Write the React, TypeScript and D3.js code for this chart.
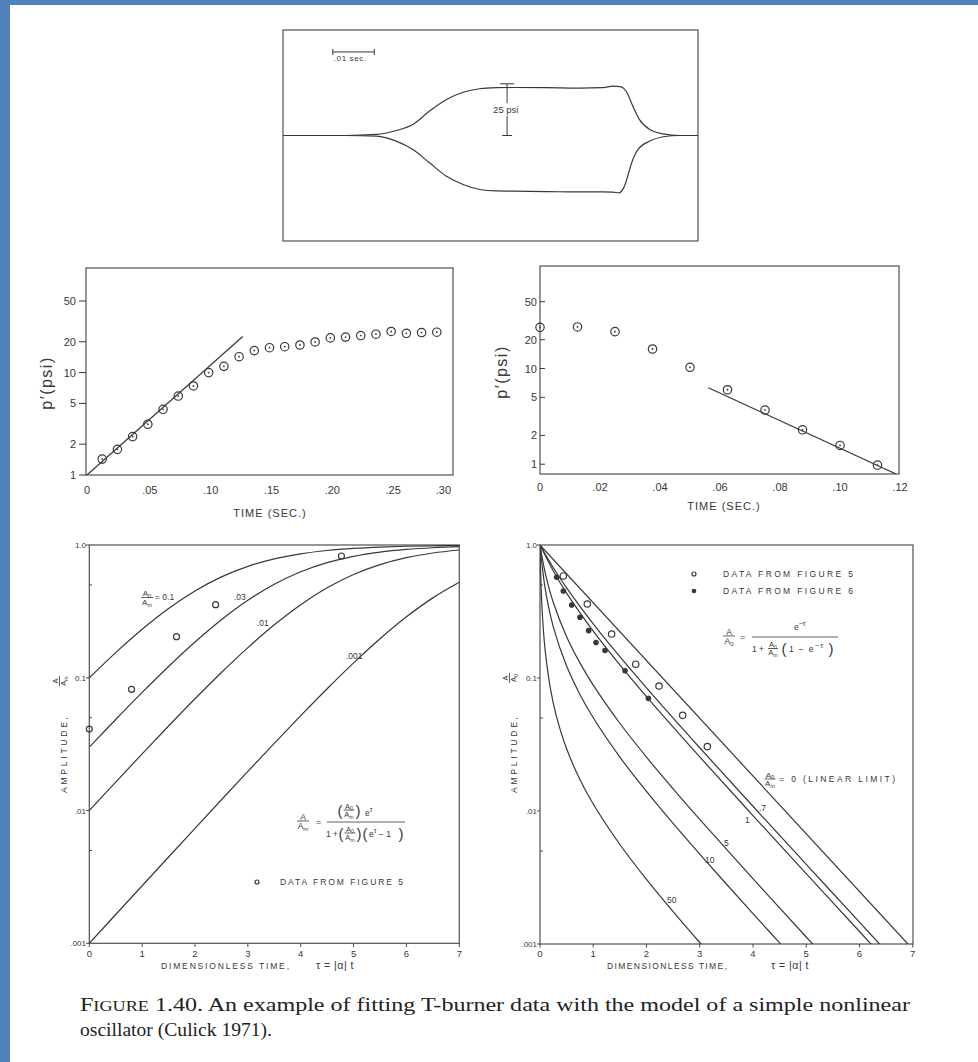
import React from "react";
import * as d3 from "d3";

// ---------------- DATA ----------------
// Top: oscilloscope envelope (time ms, amplitude psi)
const traceUpperT = [0, 15, 22.5, 27.3, 31.3, 35.3, 39.4, 43.4, 47.4, 51.4, 55.4, 63.5, 71.5, 77.1, 79.5, 81.5, 82.7, 84.3, 85.9, 88.4, 91.6, 95.6, 100];
const traceUpperP = [0, 0, 0.5, 2.4, 5.3, 11.8, 17.4, 20.9, 22.6, 23.1, 23.2, 23.1, 22.9, 23.1, 23.9, 23.5, 21.4, 14.2, 7.7, 2.9, 0.8, 0, 0];
const traceLowerT = [0, 15, 22.5, 27.3, 31.3, 35.3, 39.4, 43.4, 47.4, 51.4, 55.4, 63.5, 71.5, 77.1, 79.5, 81.0, 82.1, 84.3, 85.5, 88.4, 91.6, 95.6, 100];
const traceLowerP = [0, 0, -0.3, -2.7, -6.8, -13.2, -19.7, -23.7, -26.1, -26.8, -26.9, -27.1, -27.3, -27.3, -27.4, -27.7, -25.3, -11.6, -6.8, -2.7, -0.6, 0, 0];
const scaleBarT = [12, 22];
const scaleBarP = 40.4;
const markerT = 54;
const markerP = [0, 25];

// Middle left: growth
const growthTime = [0.0125, 0.025, 0.0375, 0.05, 0.0625, 0.075, 0.0875, 0.1, 0.1125, 0.125, 0.1375, 0.15, 0.1625, 0.175, 0.1875, 0.2, 0.2125, 0.225, 0.2375, 0.25, 0.2625, 0.275, 0.2875];
const growthP = [1.43, 1.78, 2.37, 3.13, 4.38, 5.9, 7.4, 10.0, 11.5, 14.3, 16.4, 17.5, 17.9, 18.6, 19.9, 21.8, 22.2, 23.0, 23.7, 25.2, 24.2, 24.6, 24.8];
const growthFitTime = [0, 0.128];
const growthFitP = [1, 22.5];
const growthTicks = [0, 0.05, 0.1, 0.15, 0.2, 0.25, 0.3];
const growthTickLabels = ["0", ".05", ".10", ".15", ".20", ".25", ".30"];

// Middle right: decay
const decayTime = [0, 0.0125, 0.025, 0.0375, 0.05, 0.0625, 0.075, 0.0875, 0.1, 0.1125];
const decayP = [27, 27.2, 24.3, 16, 10.3, 6.0, 3.68, 2.29, 1.57, 0.98];
const decayFitTime = [0.0561, 0.1187];
const decayFitP = [6.3, 0.79];
const decayTicks = [0, 0.02, 0.04, 0.06, 0.08, 0.1, 0.12];
const decayTickLabels = ["0", ".02", ".04", ".06", ".08", ".10", ".12"];

const pressureTicks = [1, 2, 5, 10, 20, 50];

// Bottom left: growth to limit cycle, A/Am vs tau
const growTau = [0, 0.5, 1, 1.5, 2, 2.5, 3, 3.5, 4, 4.5, 5, 5.5, 6, 6.5, 7];
const growA01 = [0.1, 0.1548, 0.232, 0.3324, 0.4509, 0.5751, 0.6906, 0.7863, 0.8585, 0.9091, 0.9428, 0.9645, 0.9782, 0.9866, 0.9919];
const growA003 = [0.03, 0.04852, 0.07755, 0.1217, 0.186, 0.2737, 0.3832, 0.506, 0.6281, 0.7357, 0.8211, 0.8833, 0.9258, 0.9537, 0.9714];
const growA001 = [0.01, 0.01638, 0.02672, 0.04331, 0.06945, 0.1096, 0.1687, 0.2507, 0.3555, 0.4762, 0.5999, 0.712, 0.803, 0.8704, 0.9172];
const growA0001 = [0.001, 0.001648, 0.002714, 0.004466, 0.007342, 0.01205, 0.01971, 0.03209, 0.05182, 0.08266, 0.1294, 0.1968, 0.2877, 0.3997, 0.5233];
const growDataTau = [0, 0.8, 1.65, 2.39, 4.77];
const growDataA = [0.0411, 0.0819, 0.204, 0.355, 0.826];

// Bottom right: decay, A/A0 vs tau
const decLinTau = [0, 6.91];
const decLinA = [1, 0.001];
const dec07Tau = [0, 0.25, 0.5, 1, 1.5, 2, 3, 4, 5, 6, 6.5];
const dec07A = [1, 0.6744, 0.4755, 0.255, 0.1445, 0.08428, 0.0299, 0.010856, 0.003975, 0.00146, 0.000885];
const dec1Tau = [0, 0.25, 0.5, 1, 1.5, 2, 3, 4, 5, 6, 6.5];
const dec1A = [1, 0.6377, 0.4352, 0.2254, 0.1256, 0.07256, 0.02553, 0.009242, 0.00338, 0.001241, 0.000752];
const dec5Tau = [0, 0.1, 0.25, 0.5, 0.75, 1, 1.5, 2, 2.5, 3, 4, 5, 5.5];
const dec5A = [1, 0.613, 0.3698, 0.2044, 0.1299, 0.08843, 0.04568, 0.02542, 0.01468, 0.008658, 0.0031, 0.001129, 0.000684];
const dec10Tau = [0, 0.1, 0.25, 0.5, 0.75, 1, 1.5, 2, 2.5, 3, 4, 4.5, 5];
const dec10A = [1, 0.4635, 0.2425, 0.1229, 0.07527, 0.05025, 0.02544, 0.01403, 0.008064, 0.004741, 0.001693, 0.00102, 0.000616];
const dec50Tau = [0, 0.02, 0.05, 0.1, 0.2, 0.3, 0.5, 0.75, 1, 1.5, 2, 2.5, 3, 3.5];
const dec50A = [1, 0.4926, 0.2766, 0.1571, 0.08136, 0.05307, 0.02934, 0.01725, 0.01128, 0.005599, 0.003059, 0.00175, 0.001026, 0.00061];
const decOpenTau = [0.438, 0.889, 1.346, 1.797, 2.235, 2.68, 3.143];
const decOpenA = [0.585, 0.36, 0.214, 0.127, 0.0871, 0.0524, 0.0305];
const decFillTau = [0.313, 0.438, 0.595, 0.751, 0.914, 1.052, 1.221, 1.597, 2.035];
const decFillA = [0.572, 0.451, 0.354, 0.286, 0.227, 0.185, 0.161, 0.1135, 0.0703];

const tauTicks = [0, 1, 2, 3, 4, 5, 6, 7];
const ampTicks = [1, 0.1, 0.01, 0.001];
const ampTickLabels = ["1.0", "0.1", ".01", ".001"];
const ampMinorTicks = [0.5, 0.05, 0.005];

// ---------------- STYLE ----------------
const INK = "#383838";
const BOX = "#505050";
const BLUE = "#4f81bd";
const FONT = "'Liberation Sans', 'DejaVu Sans', Arial, sans-serif";
const SERIF = "'Liberation Serif', 'DejaVu Serif', serif";

type Sc = (v: number) => number;

function pathOf(xs: number[], ys: number[], sx: Sc, sy: Sc, curve: any) {
  const pts = xs.map((v, i) => [sx(v), sy(ys[i])] as [number, number]);
  return d3.line().curve(curve)(pts) || "";
}

function Sub(props: { x: number; y: number; b: string; s?: string; size: number; anchor?: string }) {
  const { x, y, b, s, size, anchor = "middle" } = props;
  return (
    <text x={x} y={y} fontSize={size} textAnchor={anchor} fill={INK}>
      {b}
      {s ? (
        <tspan fontSize={size * 0.7} dy={size * 0.22}>
          {s}
        </tspan>
      ) : null}
    </text>
  );
}

function Frac(props: { cx: number; by: number; n: string; ns?: string; d: string; ds?: string; size?: number; w?: number }) {
  const { cx, by, n, ns, d, ds, size = 7, w = 12 } = props;
  return (
    <g>
      <Sub x={cx} y={by - 1.4} b={n} s={ns} size={size} />
      <line x1={cx - w / 2} x2={cx + w / 2} y1={by} y2={by} stroke={INK} strokeWidth={0.8} />
      <Sub x={cx} y={by + size * 0.92} b={d} s={ds} size={size} />
    </g>
  );
}

function Circ({ cx, cy, r, dot }: { cx: number; cy: number; r: number; dot?: boolean }) {
  return (
    <g>
      <circle cx={cx} cy={cy} r={r} fill="none" stroke={INK} strokeWidth={1.2} />
      {dot ? <circle cx={cx} cy={cy} r={0.9} fill={INK} /> : null}
    </g>
  );
}

export default function App() {
  // ---- top panel ----
  const tX = d3.scaleLinear().domain([0, 100]).range([283, 698]);
  const tY = d3.scaleLinear().domain([-51, 51]).range([241, 30]);

  // ---- middle left ----
  const gX = d3.scaleLinear().domain([0, 0.3]).range([87, 452]);
  const gY = d3.scaleLog().domain([1, 105]).range([475, 268]);
  // ---- middle right ----
  const dX = d3.scaleLinear().domain([0, 0.12]).range([540, 900]);
  const dY = d3.scaleLog().domain([0.79, 118]).range([474, 266]);
  // ---- bottom left ----
  const bX = d3.scaleLinear().domain([0, 7]).range([89.3, 459.3]);
  const bY = d3.scaleLog().domain([0.001, 1]).range([943.3, 545]);
  // ---- bottom right ----
  const rX = d3.scaleLinear().domain([0, 7]).range([540, 912.7]);
  const rY = d3.scaleLog().domain([0.001, 1]).range([944, 545]);

  const smooth = d3.curveCatmullRom.alpha(0.5);
  const mono = d3.curveMonotoneX;
  const lin = d3.curveLinear;

  const lineStyle = { fill: "none", stroke: INK, strokeWidth: 1.2 };

  const growCurves = [growA01, growA003, growA001, growA0001];
  const decCurves: [number[], number[]][] = [
    [decLinTau, decLinA],
    [dec07Tau, dec07A],
    [dec1Tau, dec1A],
    [dec5Tau, dec5A],
    [dec10Tau, dec10A],
    [dec50Tau, dec50A],
  ];

  const bracket = (x: number, y: number, ch: string, size = 15) => (
    <text x={x} y={y} fontSize={size} fill={INK} fontWeight={300} textAnchor="middle">
      {ch}
    </text>
  );

  const LS = 8.5; // small label size in bottom panels

  return (
    <svg
      width={978}
      height={1062}
      style={{ position: "absolute", left: 0, top: 0, display: "block" }}
      fontFamily={FONT}
    >
      <defs>
        <clipPath id="clipBL">
          <rect x={89.3} y={545} width={370} height={398.3} />
        </clipPath>
        <clipPath id="clipBR">
          <rect x={540} y={545} width={373} height={399} />
        </clipPath>
        <clipPath id="clipMR">
          <rect x={540} y={266} width={359} height={208} />
        </clipPath>
      </defs>
      <rect x={0} y={0} width={978} height={1062} fill="#ffffff" />
      <rect x={0} y={0} width={978} height={5} fill={BLUE} />
      <rect x={0} y={0} width={10} height={1062} fill={BLUE} />

      {/* ================= TOP PANEL ================= */}
      <rect x={283} y={30} width={415} height={211} fill="none" stroke={BOX} strokeWidth={1.2} />
      <path d={pathOf(traceUpperT, traceUpperP, tX, tY, mono)} {...lineStyle} />
      <path d={pathOf(traceLowerT, traceLowerP, tX, tY, mono)} {...lineStyle} />
      {/* scale bar */}
      <g stroke={INK} strokeWidth={1}>
        <line x1={tX(scaleBarT[0])} x2={tX(scaleBarT[1])} y1={tY(scaleBarP)} y2={tY(scaleBarP)} />
        <line x1={tX(scaleBarT[0])} x2={tX(scaleBarT[0])} y1={tY(scaleBarP) - 3} y2={tY(scaleBarP) + 3} />
        <line x1={tX(scaleBarT[1])} x2={tX(scaleBarT[1])} y1={tY(scaleBarP) - 3} y2={tY(scaleBarP) + 3} />
      </g>
      <text x={tX(scaleBarT[0]) + 1} y={tY(scaleBarP) + 9.5} fontSize={8} fill={INK} letterSpacing={0.6}>
        .01 sec.
      </text>
      {/* 25 psi marker */}
      <g stroke={INK} strokeWidth={1}>
        <line x1={tX(markerT)} x2={tX(markerT)} y1={tY(markerP[1])} y2={tY(15.6)} />
        <line x1={tX(markerT)} x2={tX(markerT)} y1={tY(9.6)} y2={tY(markerP[0])} />
        <line x1={tX(markerT) - 7} x2={tX(markerT) + 7} y1={tY(markerP[1])} y2={tY(markerP[1])} />
        <line x1={tX(markerT) - 5} x2={tX(markerT) + 5} y1={tY(markerP[0])} y2={tY(markerP[0])} />
      </g>
      <text x={tX(markerT) - 14} y={113} fontSize={9.5} fill={INK}>
        25 psi
      </text>

      {/* ================= MIDDLE LEFT ================= */}
      <rect x={86} y={268} width={367} height={207} fill="none" stroke={BOX} strokeWidth={1.2} />
      {pressureTicks.map((v) => (
        <g key={"gl" + v}>
          <line x1={79} x2={86} y1={gY(v)} y2={gY(v)} stroke={INK} strokeWidth={1} />
          <text x={76} y={gY(v) + 4} fontSize={11} textAnchor="end" fill={INK}>
            {v}
          </text>
        </g>
      ))}
      {growthTicks.map((v, i) => (
        <text
          key={"gx" + v}
          x={i === growthTicks.length - 1 ? 451 : gX(v) + (i === 0 ? 0 : 2)}
          y={494}
          fontSize={11}
          textAnchor={i === growthTicks.length - 1 ? "end" : "middle"}
          fill={INK}
        >
          {growthTickLabels[i]}
        </text>
      ))}
      <text x={270} y={517} fontSize={11} textAnchor="middle" fill={INK} letterSpacing={1}>
        TIME  (SEC.)
      </text>
      <text transform="translate(52,383) rotate(-90)" fontSize={16} textAnchor="middle" fill={INK} letterSpacing={1.5}>
        p′(psi)
      </text>
      <path d={pathOf(growthFitTime, growthFitP, gX, gY, lin)} {...lineStyle} />
      {growthTime.map((t, i) => (
        <Circ key={"gc" + i} cx={gX(t)} cy={gY(growthP[i])} r={4.2} dot />
      ))}

      {/* ================= MIDDLE RIGHT ================= */}
      <rect x={540} y={266} width={359} height={208} fill="none" stroke={BOX} strokeWidth={1.2} />
      {pressureTicks.map((v) => (
        <g key={"dl" + v}>
          <line x1={540} x2={545} y1={dY(v)} y2={dY(v)} stroke={INK} strokeWidth={1} />
          <text x={537} y={dY(v) + 4} fontSize={11} textAnchor="end" fill={INK}>
            {v}
          </text>
        </g>
      ))}
      {decayTicks.map((v, i) => (
        <text key={"dx" + v} x={dX(v)} y={491} fontSize={11} textAnchor="middle" fill={INK}>
          {decayTickLabels[i]}
        </text>
      ))}
      <text x={724} y={510} fontSize={11} textAnchor="middle" fill={INK} letterSpacing={1}>
        TIME  (SEC.)
      </text>
      <text transform="translate(507,372) rotate(-90)" fontSize={16} textAnchor="middle" fill={INK} letterSpacing={1.5}>
        p′(psi)
      </text>
      <g clipPath="url(#clipMR)">
        <path d={pathOf(decayFitTime, decayFitP, dX, dY, lin)} {...lineStyle} />
      </g>
      {decayTime.map((t, i) => (
        <Circ key={"dc" + i} cx={dX(t)} cy={dY(decayP[i])} r={4.2} dot />
      ))}

      {/* ================= BOTTOM LEFT ================= */}
      <rect x={89.3} y={545} width={370} height={398.3} fill="none" stroke={BOX} strokeWidth={1.2} />
      {ampTicks.map((v, i) => (
        <g key={"bly" + v}>
          <line x1={86} x2={89.3} y1={bY(v)} y2={bY(v)} stroke={INK} strokeWidth={0.9} />
          <text x={86} y={bY(v) + 3} fontSize={8} textAnchor="end" fill={INK}>
            {ampTickLabels[i]}
          </text>
        </g>
      ))}
      {ampMinorTicks.map((v) => (
        <line key={"blm" + v} x1={89.3} x2={92} y1={bY(v)} y2={bY(v)} stroke={INK} strokeWidth={0.9} />
      ))}
      {tauTicks.map((v) => (
        <g key={"blx" + v}>
          <line x1={bX(v)} x2={bX(v)} y1={943.3} y2={947} stroke={INK} strokeWidth={0.9} />
          <text x={bX(v)} y={957} fontSize={9.5} textAnchor="middle" fill={INK}>
            {v}
          </text>
        </g>
      ))}
      <text x={161} y={969} fontSize={LS} fill={INK} textLength={128} lengthAdjust="spacing">
        DIMENSIONLESS TIME,
      </text>
      <text x={316} y={969} fontSize={10.5} fill={INK} letterSpacing={0.5}>
        τ = |α| t
      </text>
      <g transform="translate(67,793) rotate(-90)">
        <text x={0} y={0} fontSize={LS} fill={INK} textLength={76} lengthAdjust="spacing">
          AMPLITUDE,
        </text>
        <Frac cx={112} by={-7.5} n="A" d="A" ds="m" size={7.5} w={10} />
      </g>
      <g clipPath="url(#clipBL)">
        {growCurves.map((c, i) => (
          <path key={"gcurve" + i} d={pathOf(growTau, c, bX, bY, smooth)} {...lineStyle} />
        ))}
      </g>
      {growDataTau.map((t, i) => (
        <Circ key={"bd" + i} cx={bX(t)} cy={bY(growDataA[i])} r={3} />
      ))}
      {/* curve labels */}
      <Frac cx={147} by={597.5} n="A" ns="0" d="A" ds="m" size={8} w={12} />
      <text x={155} y={600} fontSize={LS} fill={INK}>
        = 0.1
      </text>
      <text x={234} y={600} fontSize={LS} fill={INK}>
        .03
      </text>
      <text x={257} y={626} fontSize={LS} fill={INK}>
        .01
      </text>
      <text x={346} y={659} fontSize={LS} fill={INK}>
        .001
      </text>
      {/* formula */}
      <Frac cx={303} by={821} n="A" d="A" ds="m" size={8.5} w={12} />
      <text x={316} y={824.5} fontSize={9} fill={INK}>
        =
      </text>
      {bracket(340, 816, "(", 15)}
      <Frac cx={349} by={810} n="A" ns="0" d="A" ds="m" size={7.5} w={11} />
      {bracket(358, 816, ")", 15)}
      <text x={365} y={816} fontSize={LS} fill={INK}>
        e
        <tspan fontSize={7} dy={-4.5}>
          τ
        </tspan>
      </text>
      <line x1={327} x2={405} y1={822} y2={822} stroke={INK} strokeWidth={0.8} />
      <text x={326} y={837} fontSize={LS} fill={INK}>
        1 +
      </text>
      {bracket(341, 839, "(", 15)}
      <Frac cx={350} by={833} n="A" ns="0" d="A" ds="m" size={7.5} w={11} />
      {bracket(359, 839, ")", 15)}
      {bracket(365, 839, "(", 15)}
      <text x={369} y={837} fontSize={LS} fill={INK}>
        e
        <tspan fontSize={7} dy={-4.5}>
          τ
        </tspan>
        <tspan dy={4.5}> − 1</tspan>
      </text>
      {bracket(401, 839, ")", 15)}
      {/* legend */}
      <Circ cx={257} cy={882} r={2} />
      <text x={280} y={885} fontSize={LS} fill={INK} textLength={123} lengthAdjust="spacing">
        DATA FROM FIGURE 5
      </text>

      {/* ================= BOTTOM RIGHT ================= */}
      <rect x={540} y={545} width={373} height={399} fill="none" stroke={BOX} strokeWidth={1.2} />
      {ampTicks.map((v, i) => (
        <g key={"bry" + v}>
          <line x1={537} x2={540} y1={rY(v)} y2={rY(v)} stroke={INK} strokeWidth={0.9} />
          <text x={537} y={rY(v) + 3} fontSize={8} textAnchor="end" fill={INK}>
            {ampTickLabels[i]}
          </text>
        </g>
      ))}
      {ampMinorTicks.map((v) => (
        <line key={"brm" + v} x1={540} x2={543} y1={rY(v)} y2={rY(v)} stroke={INK} strokeWidth={0.9} />
      ))}
      {tauTicks.map((v) => (
        <g key={"brx" + v}>
          <line x1={rX(v)} x2={rX(v)} y1={944} y2={947.5} stroke={INK} strokeWidth={0.9} />
          <text x={rX(v)} y={957} fontSize={9.5} textAnchor="middle" fill={INK}>
            {v}
          </text>
        </g>
      ))}
      <text x={607} y={969} fontSize={LS} fill={INK} textLength={120} lengthAdjust="spacing">
        DIMENSIONLESS TIME,
      </text>
      <text x={771} y={969} fontSize={10.5} fill={INK} letterSpacing={0.5}>
        τ = |α| t
      </text>
      <g transform="translate(517,793) rotate(-90)">
        <text x={0} y={0} fontSize={LS} fill={INK} textLength={76} lengthAdjust="spacing">
          AMPLITUDE,
        </text>
        <Frac cx={115} by={-7.5} n="A" d="A" ds="0" size={7.5} w={10} />
      </g>
      <g clipPath="url(#clipBR)">
        {decCurves.map(([xs, ys], i) => (
          <path key={"dcurve" + i} d={pathOf(xs, ys, rX, rY, smooth)} {...lineStyle} />
        ))}
      </g>
      {decOpenTau.map((t, i) => (
        <Circ key={"ro" + i} cx={rX(t)} cy={rY(decOpenA[i])} r={3.2} />
      ))}
      {decFillTau.map((t, i) => (
        <circle key={"rf" + i} cx={rX(t)} cy={rY(decFillA[i])} r={2.8} fill={INK} />
      ))}
      {/* legend */}
      <Circ cx={694} cy={574} r={2} />
      <text x={723} y={577} fontSize={LS} fill={INK} textLength={130} lengthAdjust="spacing">
        DATA FROM FIGURE 5
      </text>
      <circle cx={694} cy={591} r={2.3} fill={INK} />
      <text x={723} y={594} fontSize={LS} fill={INK} textLength={130} lengthAdjust="spacing">
        DATA FROM FIGURE 6
      </text>
      {/* formula */}
      <Frac cx={729} by={636} n="A" d="A" ds="0" size={8.5} w={12} />
      <text x={740} y={639.5} fontSize={9} fill={INK}>
        =
      </text>
      <text x={794} y={630} fontSize={LS} fill={INK}>
        e
        <tspan fontSize={7} dy={-4.5}>
          −τ
        </tspan>
      </text>
      <line x1={752} x2={838} y1={637} y2={637} stroke={INK} strokeWidth={0.8} />
      <text x={752} y={652} fontSize={LS} fill={INK}>
        1 +
      </text>
      <Frac cx={773} by={648.5} n="A" ns="0" d="A" ds="m" size={7.5} w={10} />
      {bracket(784, 654, "(", 15)}
      <text x={789} y={652} fontSize={LS} fill={INK} textLength={34} lengthAdjust="spacing">
        1 − e
        <tspan fontSize={7} dy={-4.5}>
          −τ
        </tspan>
      </text>
      {bracket(831, 654, ")", 15)}
      {/* curve labels */}
      <Frac cx={770} by={779} n="A" ns="0" d="A" ds="m" size={8} w={11} />
      <text x={779} y={782} fontSize={LS} fill={INK} textLength={116} lengthAdjust="spacing">
        = 0  (LINEAR  LIMIT)
      </text>
      <text x={759} y={811} fontSize={LS} fill={INK}>
        .7
      </text>
      <text x={745} y={823} fontSize={LS} fill={INK}>
        1
      </text>
      <text x={724} y={846} fontSize={LS} fill={INK}>
        5
      </text>
      <text x={705} y={863} fontSize={LS} fill={INK}>
        10
      </text>
      <text x={667} y={903} fontSize={LS} fill={INK}>
        50
      </text>

      {/* ================= CAPTION ================= */}
      <text x={80} y={1011} fontFamily={SERIF} fontSize={18.5} fill="#222" textLength={830} lengthAdjust="spacingAndGlyphs">
        F<tspan fontSize={14}>IGURE</tspan> 1.40. An example of fitting T-burner data with the model of a simple nonlinear
      </text>
      <text x={80} y={1036} fontFamily={SERIF} fontSize={18.5} fill="#222" textLength={192} lengthAdjust="spacingAndGlyphs">
        oscillator (Culick 1971).
      </text>
    </svg>
  );
}
